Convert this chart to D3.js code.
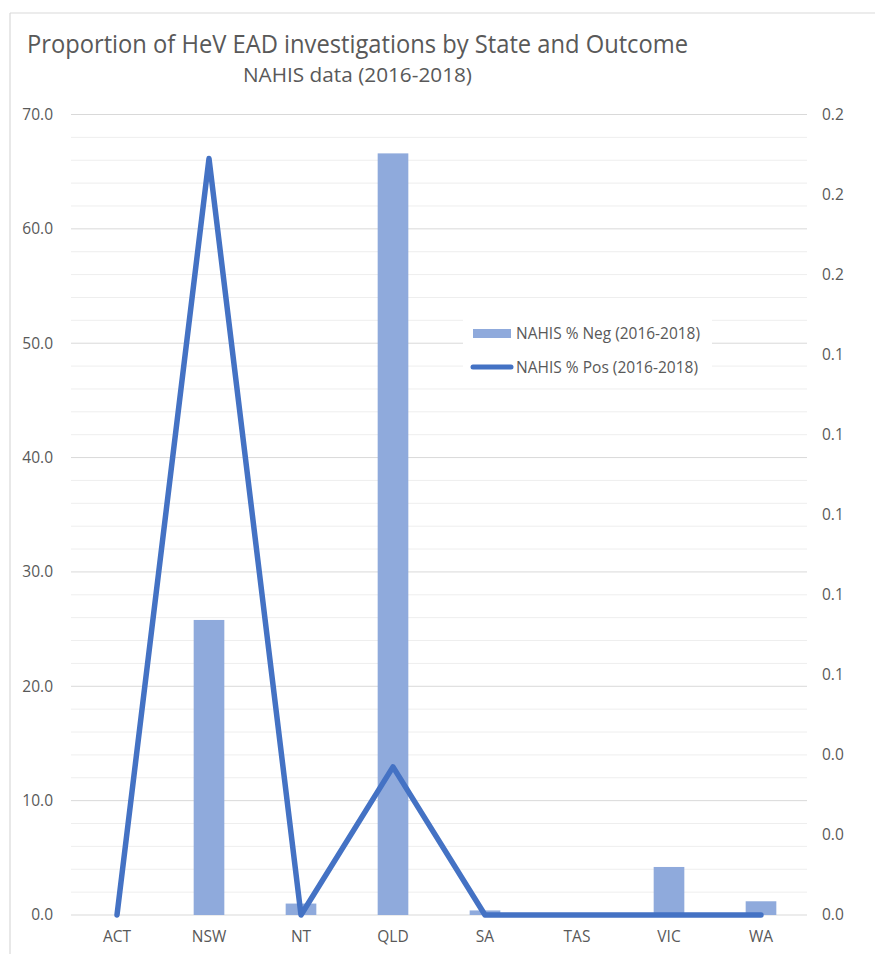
<!DOCTYPE html>
<html>
<head>
<meta charset="utf-8">
<script src="https://cdn.jsdelivr.net/npm/d3@7"></script>
<style>
  html, body { margin: 0; padding: 0; background: #fff; }
  svg { display: block; }
  text { font-family: "Open Sans", "Liberation Sans", sans-serif; fill: #595959; }
</style>
</head>
<body>
<svg id="chart" width="875" height="954"></svg>
<script>
// Chart data
const states = ["ACT", "NSW", "NT", "QLD", "SA", "TAS", "VIC", "WA"];
const pctNeg = [0, 25.8, 1.0, 66.6, 0.4, 0, 4.2, 1.2];
const pctPos = [0, 0.189, 0, 0.037, 0, 0, 0, 0];
const leftTicks = [0, 10, 20, 30, 40, 50, 60, 70];
const minorTicks = [2, 4, 6, 8, 12, 14, 16, 18, 22, 24, 26, 28, 32, 34, 36, 38, 42, 44, 46, 48, 52, 54, 56, 58, 62, 64, 66, 68];
const rightTicks = [0, 0.02, 0.04, 0.06, 0.08, 0.10, 0.12, 0.14, 0.16, 0.18, 0.20];
const seriesNames = ["NAHIS % Neg (2016-2018)", "NAHIS % Pos (2016-2018)"];
const titleText = "Proportion of HeV EAD investigations by State and Outcome";
const subtitleText = "NAHIS data (2016-2018)";

const barColor = "#8FAADC";
const lineColor = "#4472C4";

const svg = d3.select("#chart");
const plot = { left: 71, right: 807, top: 114.5, bottom: 915 };

// Chart frame
svg.append("line").attr("x1", 10).attr("x2", 875).attr("y1", 13).attr("y2", 13)
  .attr("stroke", "#d9d9d9").attr("stroke-width", 1.2);
svg.append("line").attr("x1", 10).attr("x2", 10).attr("y1", 13).attr("y2", 954)
  .attr("stroke", "#d9d9d9").attr("stroke-width", 1.2);

// Titles
svg.append("text").attr("x", 27).attr("y", 53)
  .attr("font-size", 26).attr("textLength", 661).attr("lengthAdjust", "spacingAndGlyphs")
  .text(titleText);
svg.append("text").attr("x", 243).attr("y", 82)
  .attr("font-size", 20.5).attr("textLength", 229).attr("lengthAdjust", "spacingAndGlyphs")
  .text(subtitleText);

// Scales
const x = d3.scaleBand().domain(states).range([plot.left, plot.right]).paddingInner(0).paddingOuter(0);
const yLeft = d3.scaleLinear().domain([0, 70]).range([plot.bottom, plot.top]);
const yRight = d3.scaleLinear().domain([0, 0.2]).range([plot.bottom, plot.top]);

// Gridlines: minor every 2, major every 10
svg.append("g").selectAll("line").data(minorTicks).join("line")
  .attr("x1", plot.left).attr("x2", plot.right)
  .attr("y1", d => yLeft(d)).attr("y2", d => yLeft(d))
  .attr("stroke", "#eeeeee").attr("stroke-width", 1);
svg.append("g").selectAll("line").data(leftTicks).join("line")
  .attr("x1", plot.left).attr("x2", plot.right)
  .attr("y1", d => yLeft(d)).attr("y2", d => yLeft(d))
  .attr("stroke", "#d9d9d9").attr("stroke-width", 1);

// Left axis
const leftAxis = svg.append("g").attr("transform", `translate(${plot.left},0)`)
  .call(d3.axisLeft(yLeft).tickValues(leftTicks).tickFormat(d3.format(".1f")).tickSize(0).tickPadding(18));
leftAxis.select(".domain").remove();
leftAxis.selectAll("text").attr("font-size", 15.5).style("fill", "#595959")
  .style("font-family", "'Open Sans', sans-serif");

// Right axis
const rightAxis = svg.append("g").attr("transform", `translate(${plot.right},0)`)
  .call(d3.axisRight(yRight).tickValues(rightTicks).tickFormat(d3.format(".1f")).tickSize(0).tickPadding(15));
rightAxis.select(".domain").remove();
rightAxis.selectAll("text").attr("font-size", 15.5).style("fill", "#595959")
  .style("font-family", "'Open Sans', sans-serif");

// Category axis
const bottomAxis = svg.append("g").attr("transform", `translate(0,${plot.bottom})`)
  .call(d3.axisBottom(x).tickSize(0).tickPadding(16));
bottomAxis.select(".domain").remove();
bottomAxis.selectAll("text").attr("font-size", 15.5).style("fill", "#595959")
  .style("font-family", "'Open Sans', sans-serif");

// Bars (% Neg, left axis)
const barW = x.bandwidth() / 3;
svg.append("g").selectAll("rect").data(states).join("rect")
  .attr("x", d => x(d) + x.bandwidth() / 2 - barW / 2)
  .attr("width", barW)
  .attr("y", (d, i) => yLeft(pctNeg[i]))
  .attr("height", (d, i) => yLeft(0) - yLeft(pctNeg[i]))
  .attr("fill", barColor);

// Line (% Pos, right axis)
const line = d3.line()
  .x((d, i) => x(states[i]) + x.bandwidth() / 2)
  .y(d => yRight(d));
svg.append("path").datum(pctPos)
  .attr("d", line)
  .attr("fill", "none")
  .attr("stroke", lineColor)
  .attr("stroke-width", 5.5)
  .attr("stroke-linejoin", "round")
  .attr("stroke-linecap", "round");

// Legend
const legend = svg.append("g");
legend.append("rect").attr("x", 463).attr("y", 318).attr("width", 249).attr("height", 66).attr("fill", "#fff");
legend.append("rect").attr("x", 473).attr("y", 329).attr("width", 38).attr("height", 9).attr("fill", barColor);
legend.append("text").attr("x", 516).attr("y", 339).attr("font-size", 15.5)
  .attr("textLength", 184).attr("lengthAdjust", "spacingAndGlyphs").text(seriesNames[0]);
legend.append("line").attr("x1", 473).attr("x2", 511).attr("y1", 367).attr("y2", 367)
  .attr("stroke", lineColor).attr("stroke-width", 5).attr("stroke-linecap", "round");
legend.append("text").attr("x", 516).attr("y", 372.5).attr("font-size", 15.5)
  .attr("textLength", 182).attr("lengthAdjust", "spacingAndGlyphs").text(seriesNames[1]);
</script>
</body>
</html>
